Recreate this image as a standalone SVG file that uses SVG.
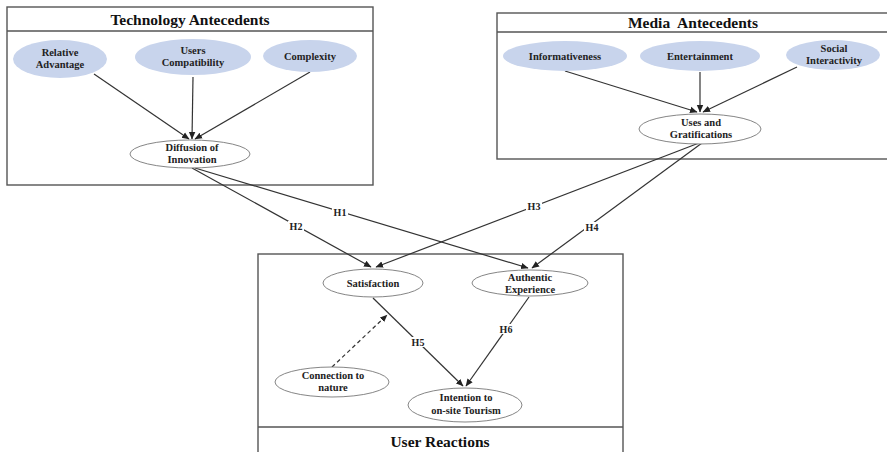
<svg xmlns="http://www.w3.org/2000/svg" width="887" height="452" viewBox="0 0 887 452">
<defs>
<marker id="ah" markerWidth="8" markerHeight="8" refX="7" refY="4" orient="auto" markerUnits="userSpaceOnUse">
<path d="M0,0.8 L7.5,4 L0,7.2 Z" fill="#222"/>
</marker>
<style>
.box{fill:#fff;stroke:#555;stroke-width:1.4}
.sep{stroke:#555;stroke-width:1.4}
.title{font-family:"Liberation Serif","Times New Roman",serif;font-weight:bold;font-size:15.5px;fill:#111;text-anchor:middle}
.blue{fill:#c8d4ec;stroke:none}
.white{fill:#fff;stroke:#777;stroke-width:0.9}
.lbl{font-family:"Liberation Serif","Times New Roman",serif;font-weight:bold;font-size:10.5px;fill:#222;text-anchor:middle}
.conn{stroke:#333;stroke-width:1.2;fill:none;marker-end:url(#ah)}
.dash{stroke-dasharray:4,3}
.hl{font-family:"Liberation Serif","Times New Roman",serif;font-weight:bold;font-size:10px;fill:#222;text-anchor:middle}
.hbg{fill:#fff}
</style>
</defs>
<rect width="887" height="452" fill="#fff"/>

<g id="tech-box">
<rect class="box" x="7" y="7" width="366" height="178"/>
<line class="sep" x1="7" y1="31" x2="373" y2="31"/>
<text class="title" x="190" y="25">Technology Antecedents</text>
</g>
<g id="media-box">
<rect class="box" x="497" y="13" width="400" height="146"/>
<line class="sep" x1="497" y1="32" x2="887" y2="32"/>
<text class="title" x="693" y="28" xml:space="preserve">Media  Antecedents</text>
</g>
<g id="user-box">
<rect class="box" x="258" y="254" width="365" height="210"/>
<line class="sep" x1="258" y1="427" x2="623" y2="427"/>
<text class="title" x="440" y="447">User Reactions</text>
</g>

<g id="connectors">
<line class="conn" x1="94" y1="74" x2="189" y2="139"/>
<line class="conn" x1="193" y1="77" x2="192" y2="139"/>
<line class="conn" x1="310" y1="72" x2="195" y2="139"/>
<line class="conn" x1="565" y1="71" x2="697" y2="112"/>
<line class="conn" x1="700" y1="72" x2="700" y2="112"/>
<line class="conn" x1="797" y1="67" x2="703" y2="112"/>
<line class="conn" x1="192" y1="168" x2="371" y2="267"/>
<line class="conn" x1="195" y1="168" x2="528" y2="268"/>
<line class="conn" x1="699" y1="143" x2="376" y2="267"/>
<line class="conn" x1="702" y1="143" x2="532" y2="268"/>
<line class="conn" x1="373" y1="298" x2="463" y2="386"/>
<line class="conn" x1="529" y1="297" x2="466" y2="386"/>
<line class="conn dash" x1="332" y1="367" x2="387" y2="315"/>
<rect class="hbg" x="332" y="207" width="16" height="10"/>
<text class="hl" x="340" y="216">H1</text>
<rect class="hbg" x="288" y="221" width="16" height="10"/>
<text class="hl" x="296" y="230">H2</text>
<rect class="hbg" x="526" y="201" width="16" height="10"/>
<text class="hl" x="534" y="210">H3</text>
<rect class="hbg" x="584" y="222" width="16" height="10"/>
<text class="hl" x="592" y="231">H4</text>
<rect class="hbg" x="410" y="337" width="16" height="10"/>
<text class="hl" x="418" y="346">H5</text>
<rect class="hbg" x="498" y="324" width="16" height="10"/>
<text class="hl" x="506" y="333">H6</text>
</g>

<g id="relative-advantage">
<ellipse class="blue" cx="60" cy="59" rx="47" ry="19"/>
<text class="lbl" x="60" y="56">Relative</text>
<text class="lbl" x="60" y="68">Advantage</text>
</g>
<g id="users-compatibility">
<ellipse class="blue" cx="193" cy="57" rx="58" ry="18"/>
<text class="lbl" x="193" y="54">Users</text>
<text class="lbl" x="193" y="66">Compatibility</text>
</g>
<g id="complexity">
<ellipse class="blue" cx="310" cy="56" rx="47" ry="16"/>
<text class="lbl" x="310" y="60">Complexity</text>
</g>
<g id="diffusion">
<ellipse class="white" cx="190" cy="154" rx="60" ry="14"/>
<text class="lbl" x="192" y="151">Diffusion of</text>
<text class="lbl" x="192" y="163">Innovation</text>
</g>
<g id="informativeness">
<ellipse class="blue" cx="565" cy="56" rx="62" ry="15"/>
<text class="lbl" x="565" y="60">Informativeness</text>
</g>
<g id="entertainment">
<ellipse class="blue" cx="700" cy="56" rx="60" ry="15"/>
<text class="lbl" x="700" y="60">Entertainment</text>
</g>
<g id="social-interactivity">
<ellipse class="blue" cx="833" cy="55" rx="47" ry="15"/>
<text class="lbl" x="834" y="52">Social</text>
<text class="lbl" x="834" y="64">Interactivity</text>
</g>
<g id="uses-gratifications">
<ellipse class="white" cx="700" cy="129" rx="61" ry="15"/>
<text class="lbl" x="701" y="126">Uses and</text>
<text class="lbl" x="701" y="138">Gratifications</text>
</g>
<g id="satisfaction">
<ellipse class="white" cx="373" cy="283" rx="50" ry="14"/>
<text class="lbl" x="373" y="287">Satisfaction</text>
</g>
<g id="authentic-experience">
<ellipse class="white" cx="530" cy="283" rx="58" ry="13"/>
<text class="lbl" x="530" y="281">Authentic</text>
<text class="lbl" x="530" y="293">Experience</text>
</g>
<g id="connection-nature">
<ellipse class="white" cx="332" cy="382" rx="57" ry="15"/>
<text class="lbl" x="333" y="379">Connection to</text>
<text class="lbl" x="333" y="391">nature</text>
</g>
<g id="intention">
<ellipse class="white" cx="465" cy="405" rx="57" ry="17"/>
<text class="lbl" x="466" y="401">Intention to</text>
<text class="lbl" x="466" y="414">on-site Tourism</text>
</g>
</svg>
